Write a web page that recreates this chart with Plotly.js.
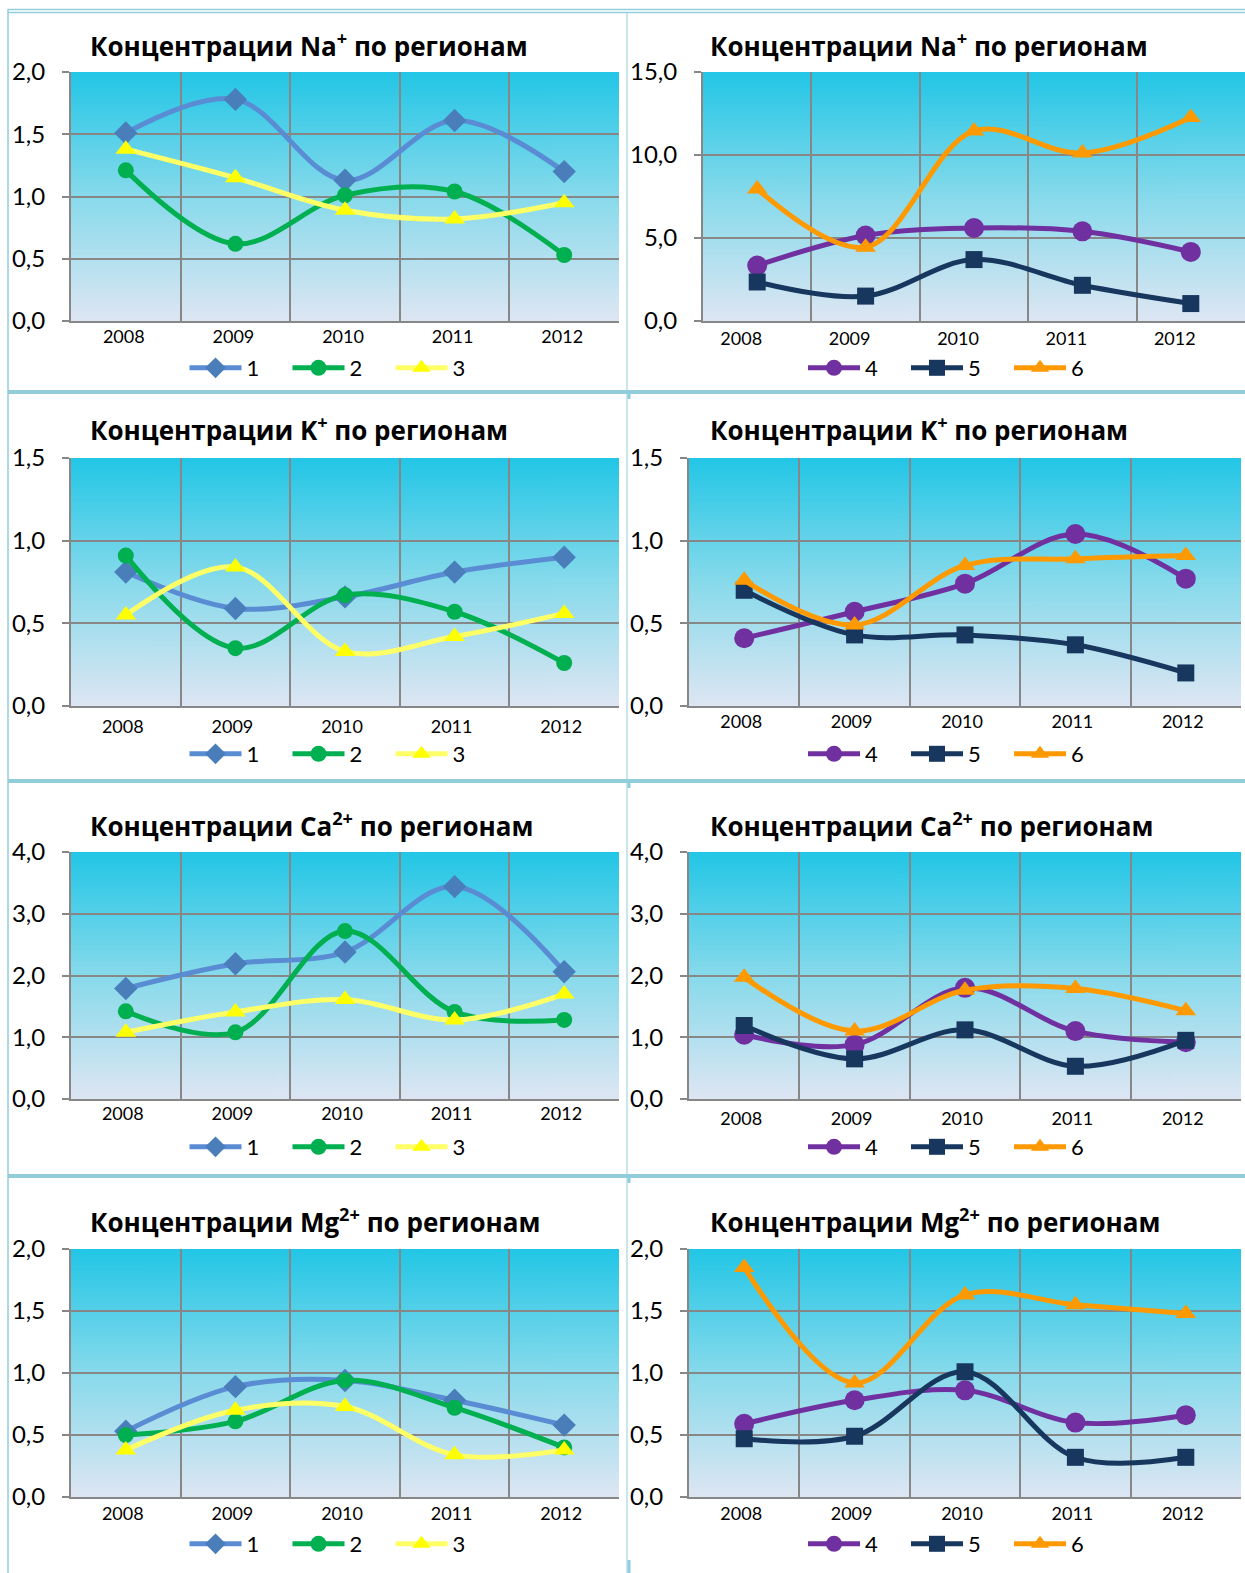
<!DOCTYPE html>
<html>
<head>
<meta charset="utf-8">
<script src="https://cdn.plot.ly/plotly-3.0.1.min.js"></script>
<style>html,body{margin:0;padding:0;background:#fff;}#chart{width:1245px;height:1573px;}</style>
</head>
<body>
<div id="chart"></div>
<script>
// ---------- DATA ----------
const years = ['2008', '2009', '2010', '2011', '2012'];
const seriesNamesLeft = ['1', '2', '3'];
const seriesNamesRight = ['4', '5', '6'];

const naR1 = [1.51, 1.78, 1.13, 1.61, 1.20];
const naR2 = [1.21, 0.62, 1.01, 1.04, 0.53];
const naR3 = [1.38, 1.15, 0.89, 0.82, 0.95];
const naR4 = [3.34, 5.15, 5.60, 5.40, 4.16];
const naR5 = [2.35, 1.50, 3.70, 2.15, 1.05];
const naR6 = [7.95, 4.45, 11.45, 10.12, 12.26];

const kR1 = [0.81, 0.59, 0.66, 0.81, 0.90];
const kR2 = [0.91, 0.35, 0.67, 0.57, 0.26];
const kR3 = [0.55, 0.84, 0.33, 0.42, 0.56];
const kR4 = [0.41, 0.57, 0.74, 1.04, 0.77];
const kR5 = [0.70, 0.43, 0.43, 0.37, 0.20];
const kR6 = [0.76, 0.49, 0.85, 0.89, 0.91];

const caR1 = [1.79, 2.19, 2.38, 3.44, 2.06];
const caR2 = [1.42, 1.08, 2.72, 1.41, 1.28];
const caR3 = [1.08, 1.41, 1.61, 1.28, 1.70];
const caR4 = [1.04, 0.88, 1.80, 1.10, 0.92];
const caR5 = [1.19, 0.65, 1.12, 0.53, 0.95];
const caR6 = [1.97, 1.10, 1.76, 1.79, 1.43];

const mgR1 = [0.53, 0.89, 0.94, 0.78, 0.58];
const mgR2 = [0.50, 0.61, 0.94, 0.72, 0.40];
const mgR3 = [0.38, 0.70, 0.73, 0.34, 0.38];
const mgR4 = [0.59, 0.78, 0.86, 0.60, 0.66];
const mgR5 = [0.47, 0.49, 1.01, 0.32, 0.32];
const mgR6 = [1.85, 0.92, 1.63, 1.55, 1.48];

const titleNa = 'Концентрации Na<sup>+</sup> по регионам';
const titleK = 'Концентрации K<sup>+</sup> по регионам';
const titleCa = 'Концентрации Ca<sup>2+</sup> по регионам';
const titleMg = 'Концентрации Mg<sup>2+</sup> по регионам';

// ---------- STYLES ----------
const W = 1245, H = 1573;
const FONT = 'Lato, "Open Sans", sans-serif';
const TFONT = '"Open Sans", "Noto Sans", sans-serif';
const styleLeft = [
  {line: '#5A8CD4', marker: '#4A7EBB', symbol: 'diamond', size: 18},
  {line: '#00B050', marker: '#00B050', symbol: 'circle', size: 16},
  {line: '#FFFF66', marker: '#FFFF00', symbol: 'triangle-up', size: 18}
];
const styleRight = [
  {line: '#7030A0', marker: '#7030A0', symbol: 'circle', size: 20},
  {line: '#17375E', marker: '#17375E', symbol: 'square', size: 17},
  {line: '#FF9900', marker: '#FF9900', symbol: 'triangle-up', size: 18}
];

const panels = [
  {title: titleNa, vals: [naR1, naR2, naR3], names: seriesNamesLeft, st: styleLeft, range: [0, 2], dtick: 0.5, col: 0, row: 0},
  {title: titleNa, vals: [naR4, naR5, naR6], names: seriesNamesRight, st: styleRight, range: [0, 15], dtick: 5, col: 1, row: 0},
  {title: titleK, vals: [kR1, kR2, kR3], names: seriesNamesLeft, st: styleLeft, range: [0, 1.5], dtick: 0.5, col: 0, row: 1},
  {title: titleK, vals: [kR4, kR5, kR6], names: seriesNamesRight, st: styleRight, range: [0, 1.5], dtick: 0.5, col: 1, row: 1},
  {title: titleCa, vals: [caR1, caR2, caR3], names: seriesNamesLeft, st: styleLeft, range: [0, 4], dtick: 1, col: 0, row: 2},
  {title: titleCa, vals: [caR4, caR5, caR6], names: seriesNamesRight, st: styleRight, range: [0, 4], dtick: 1, col: 1, row: 2},
  {title: titleMg, vals: [mgR1, mgR2, mgR3], names: seriesNamesLeft, st: styleLeft, range: [0, 2], dtick: 0.5, col: 0, row: 3},
  {title: titleMg, vals: [mgR4, mgR5, mgR6], names: seriesNamesRight, st: styleRight, range: [0, 2], dtick: 0.5, col: 1, row: 3}
];

// pixel geometry (per panel)
const plotX = [[71, 619], [703, 1245], [71, 619], [689, 1241], [71, 619], [689, 1241], [71, 619], [689, 1241]];
const rowY = [[72, 321], [458, 706], [852, 1099], [1249, 1497]];
const titleY = [45, 429, 825, 1221];
const titleX = [88, 708];
const legendY = [368, 754, 1147, 1544];
const legendX = [184.5, 803];
const xStand = [-2, 0, 3, -2, -3, 2, -1, -1];
const xShift = [-2, -16, -3, -3, -3, -3, -3, -3];

const px2x = p => p / W;
const px2y = p => 1 - p / H;

// gradient image
function gradientURL() {
  const c = document.createElement('canvas');
  c.width = 4; c.height = 256;
  const g = c.getContext('2d');
  const grd = g.createLinearGradient(0, 0, 0, 256);
  grd.addColorStop(0, 'rgb(34,198,230)');
  grd.addColorStop(0.5, 'rgb(135,218,235)');
  grd.addColorStop(1, 'rgb(222,230,243)');
  g.fillStyle = grd;
  g.fillRect(0, 0, 4, 256);
  return c.toDataURL('image/png');
}
const grad = gradientURL();

const data = [];
const layout = {
  width: W, height: H,
  margin: {l: 0, r: 0, t: 0, b: 0, pad: 0},
  paper_bgcolor: '#ffffff',
  plot_bgcolor: 'rgba(0,0,0,0)',
  separators: ', ',
  font: {family: FONT, color: '#000'},
  showlegend: true,
  annotations: [],
  images: [],
  shapes: []
};

panels.forEach((p, i) => {
  const n = i + 1;
  const xa = 'x' + (n === 1 ? '' : n);
  const ya = 'y' + (n === 1 ? '' : n);
  const lg = 'legend' + (n === 1 ? '' : n);
  const xd = [px2x(plotX[i][0]), px2x(plotX[i][1])];
  const yd = [px2y(rowY[p.row][1]), px2y(rowY[p.row][0])];

  p.vals.forEach((v, k) => {
    const s = p.st[k];
    data.push({
      type: 'scatter', mode: 'lines+markers',
      x: years, y: v, name: p.names[k],
      xaxis: xa, yaxis: ya, legend: lg,
      line: {color: s.line, width: 5, shape: 'spline', smoothing: 1},
      marker: {symbol: s.symbol, size: s.size, color: s.marker, line: {width: 0}},
      cliponaxis: false,
      hoverinfo: 'x+y+name'
    });
  });

  layout['xaxis' + (n === 1 ? '' : n)] = {
    domain: xd, anchor: ya, type: 'category',
    tickson: 'boundaries', ticks: '', showgrid: true,
    gridcolor: '#878787', gridwidth: 2,
    showline: true, linecolor: '#878787', linewidth: 2,
    tickfont: {family: FONT, size: 18, color: '#000'},
    ticklabelstandoff: xStand[i],
    ticklabelshift: xShift[i],
    range: [-0.5, 4.5], fixedrange: true
  };
  layout['yaxis' + (n === 1 ? '' : n)] = {
    domain: yd, anchor: xa, range: p.range, dtick: p.dtick, tick0: 0,
    tickformat: '.1f', showgrid: true, gridcolor: '#878787', gridwidth: 2,
    zeroline: false, showline: true, linecolor: '#878787', linewidth: 2,
    ticks: 'outside', ticklen: 7, tickwidth: 2, tickcolor: '#878787',
    ticklabelstandoff: 12,
    tickfont: {family: FONT, size: 24, color: '#000'},
    fixedrange: true
  };
  layout[lg] = {
    orientation: 'h', x: px2x(legendX[p.col]), y: px2y(legendY[p.row]),
    xanchor: 'left', yanchor: 'middle', bgcolor: 'rgba(0,0,0,0)',
    font: {family: FONT, size: 22, color: '#000'},
    itemwidth: 52, entrywidth: 36, entrywidthmode: 'pixels',
    tracegroupgap: 0
  };
  layout.annotations.push({
    text: '<b>' + p.title + '</b>', xref: 'paper', yref: 'paper',
    x: px2x(titleX[p.col]), y: px2y(titleY[p.row]),
    xanchor: 'left', yanchor: 'middle', showarrow: false,
    font: {family: TFONT, size: 26, color: '#000'}
  });
  layout.images.push({
    source: grad, xref: 'paper', yref: 'paper',
    x: xd[0], y: yd[1], sizex: xd[1] - xd[0], sizey: yd[1] - yd[0],
    xanchor: 'left', yanchor: 'top', sizing: 'stretch', layer: 'below'
  });
});

// decorative frame lines
const frame = '#92CDDC';
function hline(y, x0, x1, w) {
  layout.shapes.push({type: 'line', xref: 'paper', yref: 'paper', x0: px2x(x0), x1: px2x(x1), y0: px2y(y), y1: px2y(y), line: {color: frame, width: w}, layer: 'above'});
}
function vline(x, y0, y1, w) {
  layout.shapes.push({type: 'line', xref: 'paper', yref: 'paper', x0: px2x(x), x1: px2x(x), y0: px2y(y0), y1: px2y(y1), line: {color: frame, width: w}, layer: 'above'});
}
hline(9.5, 8, 1245, 1.5);
hline(12.5, 8, 1245, 1.5);
vline(8, 9, 1573, 1.5);
vline(627, 12, 1573, 1);
[392, 781, 1176].forEach(y => { hline(y, 8, 1245, 4); vline(629, y - 2, y + 7, 3); });
vline(629, 1560, 1573, 3);

Plotly.newPlot('chart', data, layout, {staticPlot: true, displayModeBar: false});
</script>
</body>
</html>
